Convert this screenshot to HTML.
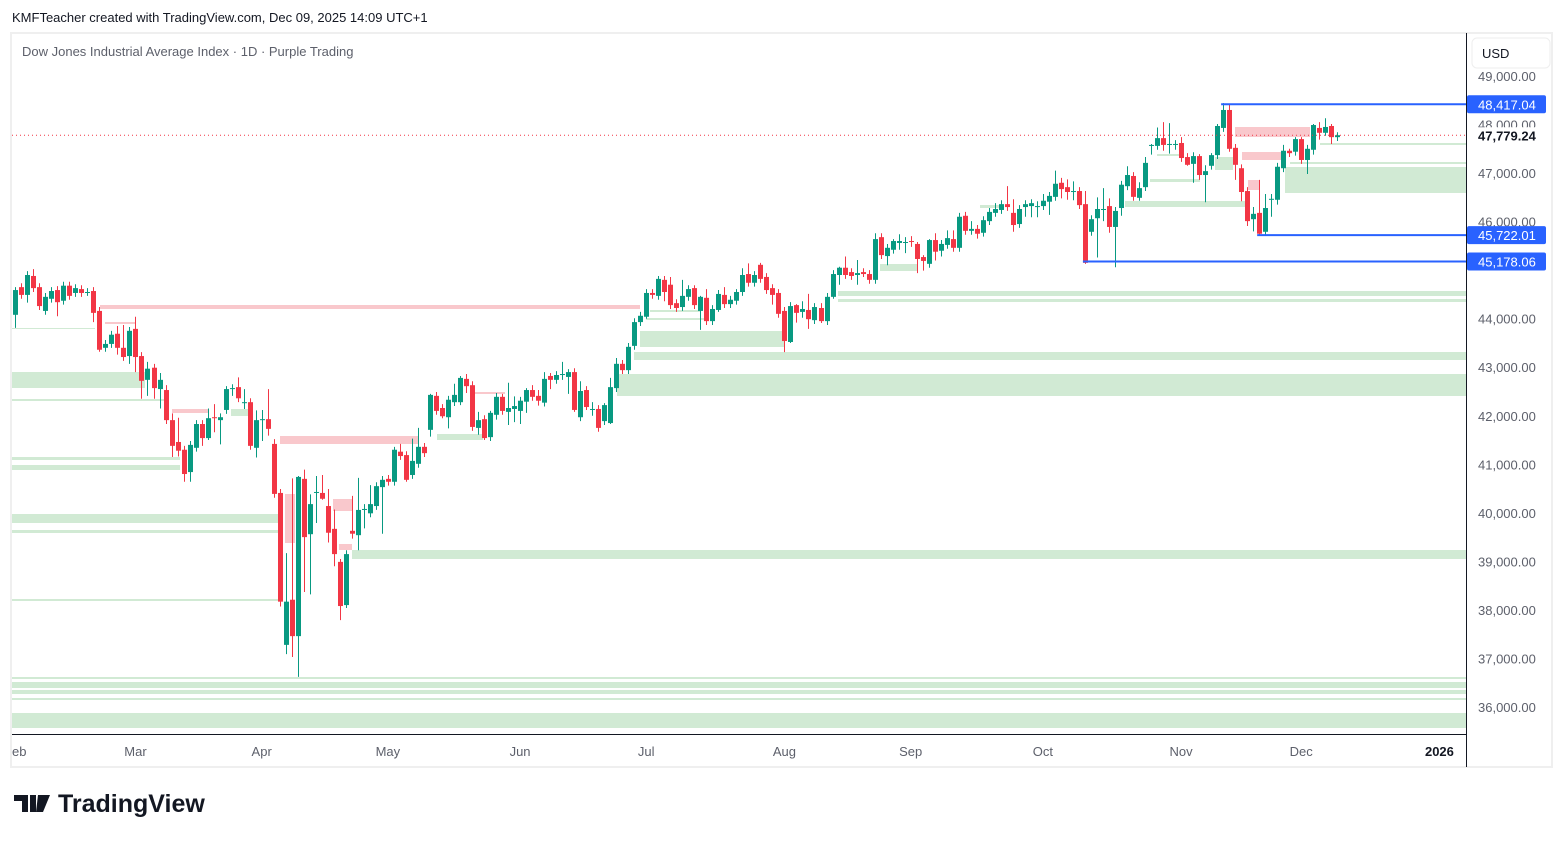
<!DOCTYPE html>
<html><head><meta charset="utf-8"><style>
body{margin:0;background:#fff;font-family:"Liberation Sans",sans-serif;}
svg text{font-family:"Liberation Sans",sans-serif;}
</style></head><body>
<svg id="chart" width="1564" height="839" xmlns="http://www.w3.org/2000/svg">
<rect x="0" y="0" width="1564" height="839" fill="#fff"/>
<text x="12" y="22" font-size="13" fill="#131722">KMFTeacher created with TradingView.com, Dec 09, 2025 14:09 UTC+1</text>
<rect x="11" y="33" width="1541" height="734" fill="none" stroke="#efefef" stroke-width="2"/>
<g id="zones"></g>
<g id="candles"></g>
<g id="lines"></g>
<line x1="1466.5" y1="33" x2="1466.5" y2="767" stroke="#131722" stroke-width="1"/>
<line x1="12" y1="734.5" x2="1466" y2="734.5" stroke="#131722" stroke-width="1"/>
<text x="22" y="56" font-size="13" fill="#5d606b">Dow Jones Industrial Average Index · 1D · Purple Trading</text>
<rect x="1472" y="38" width="78" height="30" rx="5" fill="#fff" stroke="#eee"/>
<text x="1482" y="58" font-size="13" fill="#131722">USD</text>
<g id="yaxis"></g>
<g id="xaxis"></g>
<g id="logo">
<path d="M14 795h14v17h-6v-11h-8z M30 795h6v17h-6z" fill="#131722"/>
<path d="M38 795h12l-7 17h-7z" fill="#131722"/>
<text x="58" y="812" font-size="25" font-weight="bold" fill="#131722">TradingView</text>
</g>
</svg>
<script>
const opens=[44080,44650,44490,44880,44650,44160,44410,44590,44370,44680,44530,44610,44550,44570,44160,43400,43480,43690,43400,43230,43790,43230,42740,42990,42550,42530,41910,41460,41300,40840,41340,41830,41540,41970,41910,42120,42550,42590,42280,42280,41340,41930,41930,41420,40410,37280,38210,37460,40700,39560,40430,40410,40140,39670,38990,38100,39630,39540,40080,39990,40140,40530,40700,40640,41260,41190,40780,41010,41360,41710,42410,42160,41970,42280,42280,42760,42630,41750,41930,41560,42020,42390,42080,42140,42100,42290,42530,42410,42270,42820,42740,42860,42800,42900,41970,42530,42140,42140,41890,41850,42570,43070,42940,43440,43930,44040,44530,44470,44800,44700,44320,44240,44450,44630,44160,44430,43950,44180,44490,44300,44370,44550,44920,44740,45110,44860,44630,44530,44160,43520,44280,44140,44180,43970,44220,43950,44450,44900,45050,44960,44900,44960,44920,44800,45680,45290,45420,45560,45580,45600,45540,45270,45130,45620,45400,45520,45640,45460,46120,45810,45850,45770,46010,46180,46240,46360,46180,45950,46300,46320,46320,46320,46410,46510,46800,46710,46630,46630,46360,45790,46070,46260,46320,45890,46280,46730,46940,46490,46710,47580,47560,47720,47600,47600,47620,47330,47190,47350,46960,47150,47370,47930,48300,47520,47100,46630,46050,46180,45790,46470,46450,47100,47460,47440,47700,47270,47480,47930,47830,47970,47740];
const closes=[44590,44490,44900,44630,44260,44450,44570,44340,44680,44470,44630,44530,44550,44120,43360,43480,43670,43400,43210,43750,43210,42720,42970,42570,42740,41910,41380,41280,40800,41400,41830,41540,41950,41950,41970,42550,42570,42360,42280,41380,41910,41930,41730,40390,38170,38170,37460,40740,39500,40180,40430,40290,39590,39150,38080,39150,39570,40060,40080,40180,40550,40680,40640,41300,41170,40680,41070,41360,41230,42430,42100,41990,42330,42430,42780,42610,41770,41910,41540,42060,42390,42100,42160,42200,42310,42530,42390,42310,42760,42740,42840,42860,42900,42120,42510,42180,42140,41750,42220,42590,43070,42940,43420,43930,44060,44530,44490,44820,44550,44280,44220,44470,44610,44280,44450,43950,44200,44510,44300,44390,44550,44900,44740,44900,44820,44590,44490,44100,43540,44260,44120,44200,43990,44240,43950,44450,44920,45050,44900,44880,44940,44920,44800,45640,45310,45460,45600,45600,45580,45580,45230,45190,45620,45380,45540,45660,45460,46100,45810,45850,45750,46030,46200,46260,46360,46300,45930,46260,46360,46380,46320,46430,46530,46780,46670,46610,46630,46340,45150,46050,46260,46260,45890,46220,46760,46960,46510,46690,47210,47580,47720,47580,47600,47600,47310,47170,47350,46960,47040,47370,47970,48300,47500,47170,46610,46010,46160,45750,46280,46470,47130,47460,47410,47700,47270,47500,47990,47830,47950,47740,47780];
const wickHi=[60,80,80,140,80,80,80,80,80,80,80,80,80,80,80,80,80,160,470,80,250,80,140,80,140,100,140,500,80,80,80,80,200,270,80,60,80,200,270,80,200,190,620,100,80,1000,2500,20,190,200,330,370,350,400,60,80,720,660,100,390,80,80,80,60,160,80,460,390,80,20,80,80,80,230,40,100,80,170,80,40,80,60,520,200,80,40,100,120,140,60,80,250,60,80,200,80,140,80,40,190,120,80,80,80,80,80,80,60,80,160,80,330,80,60,20,180,80,80,160,80,60,140,220,80,40,80,80,80,80,80,20,160,330,80,100,80,80,20,230,80,270,80,80,120,80,80,40,140,100,100,40,40,20,140,80,160,180,80,80,160,80,80,80,120,80,370,280,80,80,80,100,140,80,270,100,160,200,80,270,80,240,430,160,80,80,180,80,120,120,20,220,330,430,80,120,80,80,40,120,40,40,140,120,80,80,80,140,680,290,100,80,120,40,40,40,80,20,120,180,40,60];
const wickLo=[270,80,160,80,80,80,80,290,80,80,80,80,80,190,40,80,80,140,80,160,310,370,330,220,400,80,230,120,160,200,80,160,40,290,500,80,140,80,140,80,200,450,140,80,100,190,430,840,1130,1240,640,20,200,250,290,60,100,310,400,80,80,960,80,80,80,40,80,80,80,140,80,40,230,80,60,140,80,140,40,80,100,80,270,270,270,230,80,100,80,190,80,120,350,40,80,60,140,80,80,20,80,80,80,80,80,40,80,80,190,80,80,80,80,80,390,80,80,40,80,80,80,80,80,80,80,80,200,80,230,20,200,120,200,80,40,80,40,200,80,80,200,60,80,80,80,190,80,140,230,100,290,200,80,180,120,80,80,80,80,80,100,80,80,80,80,80,140,80,200,230,230,80,270,80,190,160,190,80,20,80,810,250,120,830,160,80,80,60,80,200,80,120,200,120,80,20,390,100,560,80,80,80,60,310,190,100,250,20,80,370,100,80,80,80,80,290,100,140,60,140,80];
const yTicks=[49000,48000,47000,46000,44000,43000,42000,41000,40000,39000,38000,37000,36000];
const monthLabels=["eb","Mar","Apr","May","Jun","Jul","Aug","Sep","Oct","Nov","Dec","2026"];
const monthIndex=[-3.5,20,41,62,84,105,128,149,171,194,214,237];
const levelPrices=[48417.04,45722.01,45178.06];
const levelStartIdx=[201,207,178];
const lastPrice=47779.24;

const NS="http://www.w3.org/2000/svg";
const py=p=>76+(49000-p)*0.048538;
const px=i=>15.3+i*6.009;
function mk(tag,attrs,parent){const e=document.createElementNS(NS,tag);for(const k in attrs)e.setAttribute(k,attrs[k]);parent.appendChild(e);return e;}

const G="#d1ead4",P="#f9c8cc";
const zones=[[12,677,1466,679,G],[12,682,1466,688,G],[12,690,1466,694,G],[12,698,1466,700,G],[12,713,1466,728,G],
[352,550,1466,559,G],[617,374,1466,396,G],[634,352,1466,360,G],[838,291,1466,296,G],[838,299,1466,302,G],
[12,514,280,523,G],[12,530,280,533,G],[12,599,280,601,G],[12,457,180,460,G],[12,465,180,470,G],
[12,372,145,388,G],[12,399,165,401,G],[12,328,95,329,G],[640,331,785,347,G],[1285,167,1466,193,G],
[1290,162,1466,164,G],[1320,143,1466,145,G],[1125,201,1245,207,G],[1150,179,1200,182,G],[880,264,917,271,G],
[437,434,483,440,G],[231,409,248,416,G],[1215,157,1233,170,G],[1157,154,1180,156,G],[650,310,700,312,G],[646,318,705,320,G],[980,205,1000,208,G],
[100,305,640,309,P],[280,436,418,444,P],[172,409,208,413,P],[105,322,135,324,P],[285,494,295,543,P],
[333,499,352,511,P],[339,544,352,550,P],[1235,127,1310,137,P],[1242,152,1285,160,P],[1248,180,1260,190,P],[475,392,505,394,P]];
const zg=document.getElementById('zones');
zones.forEach(z=>{const r=mk('rect',{x:z[0],y:z[1],width:z[2]-z[0],height:z[3]-z[1],fill:z[4]},zg);

});

const lg=document.getElementById('lines');
const dl=mk('line',{x1:12,x2:1466,y1:py(lastPrice),y2:py(lastPrice),stroke:"#f23645","stroke-width":1,"stroke-dasharray":"1 3"},lg);



const cg=document.getElementById('candles');
for(let i=0;i<closes.length;i++){
 const o=opens[i],c=closes[i],up=c>=o,col=up?"#089981":"#f23645";
 const x=Math.round(px(i))+0.5,hi=Math.max(o,c)+wickHi[i],lo=Math.min(o,c)-wickLo[i];
 const w=mk('line',{x1:x,x2:x,y1:py(hi),y2:py(lo),stroke:col,"stroke-width":1},cg);
 
 
 const yt=py(Math.max(o,c)),yb=py(Math.min(o,c));
 const b=mk('rect',{x:x-2.5,y:yt,width:5,height:Math.max(1,yb-yt),fill:col},cg);
 
 
}

levelPrices.forEach((p,k)=>{
 const l=mk('line',{x1:px(levelStartIdx[k])-2,x2:1466,y1:py(p),y2:py(p),stroke:"#2962ff","stroke-width":2},lg);
 
 
});

const yg=document.getElementById('yaxis');
yTicks.forEach(t=>{const e=mk('text',{x:1478,y:py(t)+5,"font-size":13,fill:"#5d606b"},yg);
e.textContent=t.toLocaleString('en-US',{minimumFractionDigits:2});

});
levelPrices.forEach(p=>{
 const r=mk('rect',{x:1467,y:py(p)-9,width:79,height:18,rx:2,fill:"#2962ff"},yg);
 
 
 const t=mk('text',{x:1478,y:py(p)+5,"font-size":13,fill:"#fff"},yg);
 t.textContent=p.toLocaleString('en-US',{minimumFractionDigits:2});
 
 
});
const lpBg=mk('rect',{x:1467,y:py(lastPrice)-8,width:84,height:15,fill:"#fff"},yg);


const lp=mk('text',{x:1478,y:py(lastPrice)+5,"font-size":13,"font-weight":"bold",fill:"#131722"},yg);
lp.textContent=lastPrice.toLocaleString('en-US',{minimumFractionDigits:2});



const xg=document.getElementById('xaxis');
monthLabels.forEach((m,k)=>{
 const x=px(monthIndex[k]);
 const t=mk('text',{x:k===0?12:x,y:756,"font-size":13,fill:"#5d606b","text-anchor":k===0?"start":"middle","font-weight":m==="2026"?"bold":"normal"},xg);
 if(m==="2026")t.setAttribute('fill','#131722');
 t.textContent=m;
 
 
});
</script>
</body></html>
